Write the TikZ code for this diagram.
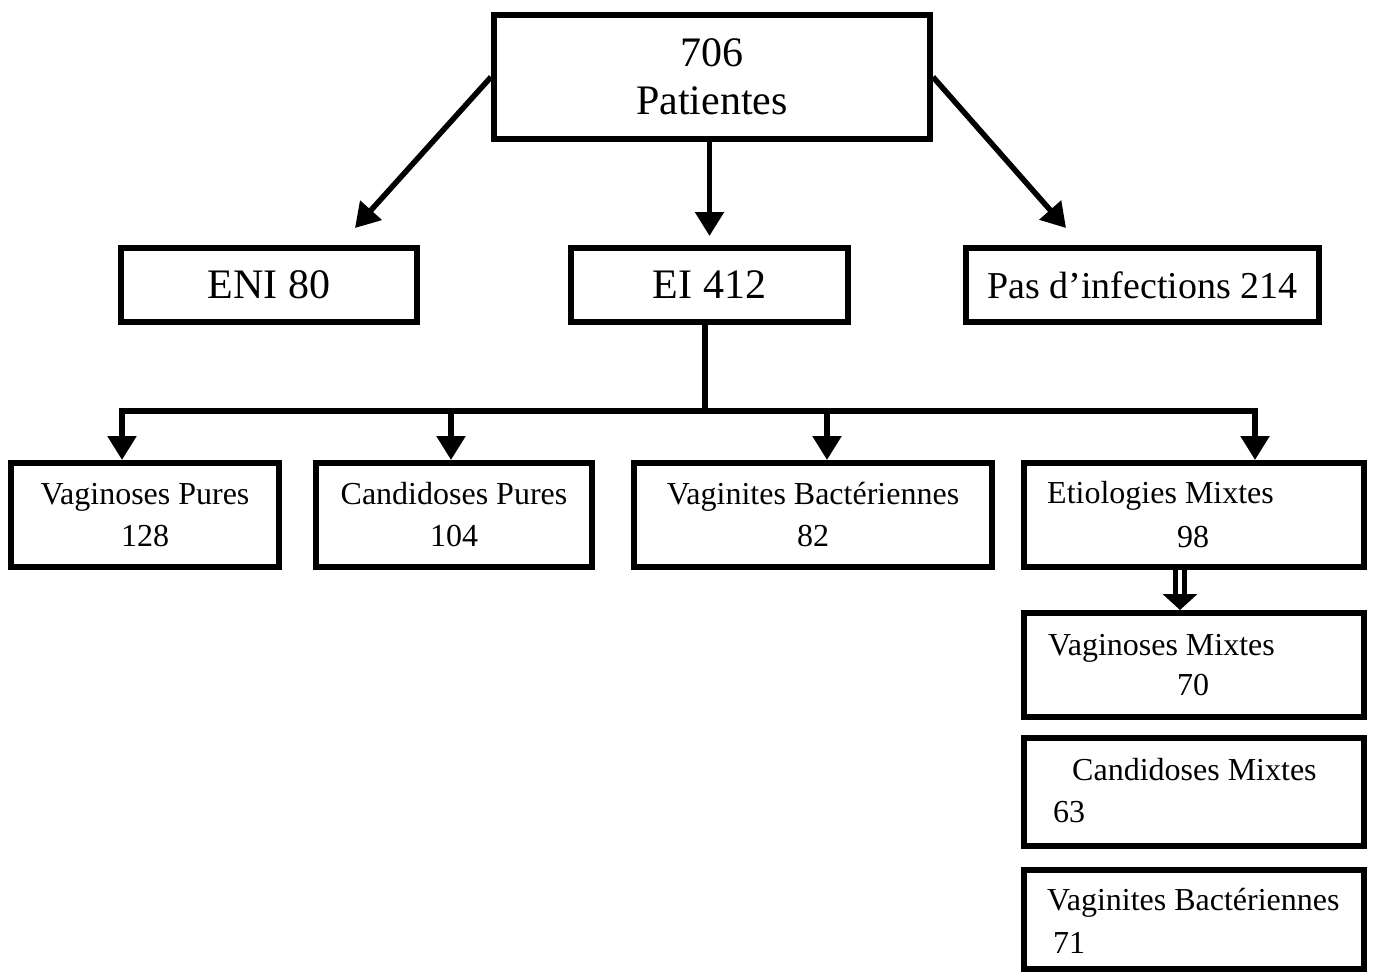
\documentclass[tikz,border=0pt]{standalone}
\usepackage{fontspec}
\setmainfont{Liberation Serif}
\usetikzlibrary{arrows.meta,calc}
\begin{document}
\begin{tikzpicture}[x=1pt,y=-1pt,
  box/.style={draw, line width=6pt, rectangle, inner sep=0pt, align=center},
  big/.style={font=\fontsize{42}{48}\selectfont},
  small/.style={font=\fontsize{32}{42}\selectfont},
  lbl/.style={small, anchor=base west, inner sep=0pt},
  arr/.style={line width=5.5pt, -{Triangle[width=28pt,length=24pt]}},
  ln/.style={line width=5.5pt},
  dbl/.style={line width=5pt, double, double distance=4pt, -{Triangle[width=34pt,length=16pt]}}]
\useasboundingbox (0,0) rectangle (1373,974);

% top level
\node[box,big,minimum width=436pt,minimum height=124pt] (top) at (712,77) {706\\Patientes};
\node[box,big,minimum width=296pt,minimum height=74pt] (eni) at (269,285) {ENI 80};
\node[box,big,minimum width=277pt,minimum height=74pt] (ei) at (709.5,285) {EI 412};
\node[box,font=\fontsize{38}{44}\selectfont,minimum width=353pt,minimum height=74pt] (pas) at (1142.5,285) {Pas d’infections 214};

% second row
\node[box,small,minimum width=268pt,minimum height=104pt] (vp) at (145,515) {Vaginoses Pures\\128};
\node[box,small,minimum width=276pt,minimum height=104pt] (cp) at (454,515) {Candidoses Pures\\104};
\node[box,small,minimum width=358pt,minimum height=104pt] (vb) at (813,515) {Vaginites Bactériennes\\82};
\node[box,minimum width=340pt,minimum height=104pt] (em) at (1194,515) {};
\node[box,minimum width=340pt,minimum height=104pt] (vm) at (1194,665) {};
\node[box,minimum width=340pt,minimum height=108pt] (cm) at (1194,792) {};
\node[box,minimum width=340pt,minimum height=99pt] (vbm) at (1194,919.5) {};

% texts of the right column
\node[lbl] (emt) at (1047,503) {Etiologies Mixtes};
\node[lbl] (emn) at (1177,547) {98};
\node[lbl] (vmt) at (1048,655) {Vaginoses Mixtes};
\node[lbl] (vmn) at (1177,695) {70};
\node[lbl] (cmt) at (1072,780) {Candidoses Mixtes};
\node[lbl] (cmn) at (1053,822) {63};
\node[lbl] (vbmt) at (1047,910) {Vaginites Bactériennes};
\node[lbl] (vbmn) at (1053,953) {71};

% top arrows
\coordinate (eniIn) at (355,228);
\coordinate (pasIn) at (1066,228);
\draw[arr] (top.west) -- (eniIn);
\draw[arr] (top.east) -- (pasIn);
\draw[arr, shorten >=9pt] (top.south -| ei.north) -- (ei.north);

% bus
\coordinate (j) at (705,411);
\coordinate (busL) at (122,411);
\coordinate (busR) at (1255,411);
\draw[ln] (ei.south -| j) -- (j);
\draw[arr] (j) -| (vp.north -| busL);
\draw[arr] (j) -| (em.north -| busR);
\draw[arr] ($(cp.north |- j)+(-3,0)$) -- ($(cp.north)+(-3,0)$);
\draw[arr] ($(vb.north |- j)+(14,0)$) -- ($(vb.north)+(14,0)$);

% double arrow
\draw[dbl] ($(em.south)+(-14,0)$) -- ($(vm.north)+(-14,0)$);
\end{tikzpicture}
\end{document}
